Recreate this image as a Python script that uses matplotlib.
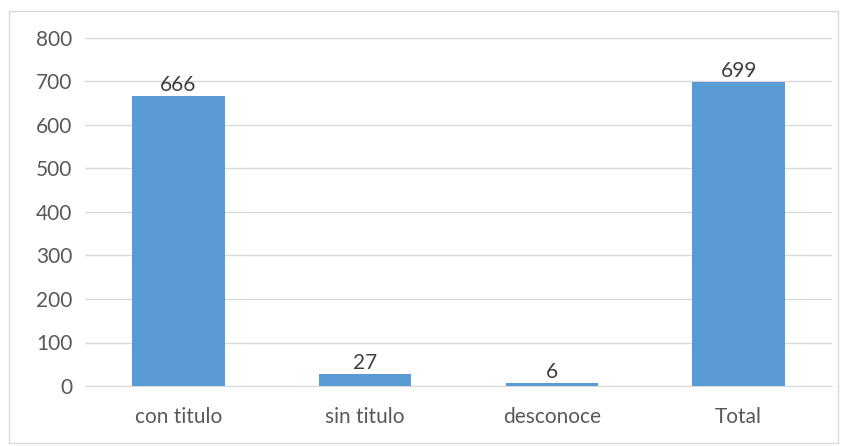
import matplotlib
matplotlib.use("Agg")
import matplotlib.pyplot as plt
from matplotlib.patches import Rectangle

categories = ["con titulo", "sin titulo", "desconoce", "Total"]
values = [666, 27, 6, 699]
yticks = [0, 100, 200, 300, 400, 500, 600, 700, 800]

plt.rcParams['font.family'] = ['Lato', 'DejaVu Sans']
W, H = 843, 446
fig = plt.figure(figsize=(W/100, H/100), dpi=100)
ax = fig.add_axes([85/W, 1-386/H, (832-85)/W, (386-38)/H])

x = list(range(len(categories)))
bars = ax.bar(x, values, width=0.495, color="#5B9BD5", zorder=3)
for xi, v in zip(x, values):
    ax.annotate(str(v), (xi, v), xytext=(0, 1), textcoords="offset points",
                ha="center", va="bottom", fontsize=15, color="#404040")

ax.set_xlim(-0.5, 3.5)
ax.set_ylim(0, 800)
ax.set_yticks(yticks)
ax.set_xticks(x)
ax.set_xticklabels(categories)
ax.grid(axis="y", color="#D9D9D9", linewidth=1, zorder=0)
for s in ax.spines.values():
    s.set_visible(False)
ax.spines['bottom'].set_visible(True)
ax.spines['bottom'].set_color("#D9D9D9")
ax.tick_params(axis="both", length=0, labelsize=15, colors="#595959")
ax.tick_params(axis="y", pad=9)
ax.tick_params(axis="x", pad=15)
for lab in ax.get_yticklabels():
    lab.set_horizontalalignment("right")

fig.patches.append(Rectangle((9/W, 1-443/H), (838-9)/W, (443-11)/H,
                             transform=fig.transFigure, fill=False,
                             edgecolor="#D9D9D9", linewidth=1))
fig.savefig("out.png", dpi=100, facecolor="white")
